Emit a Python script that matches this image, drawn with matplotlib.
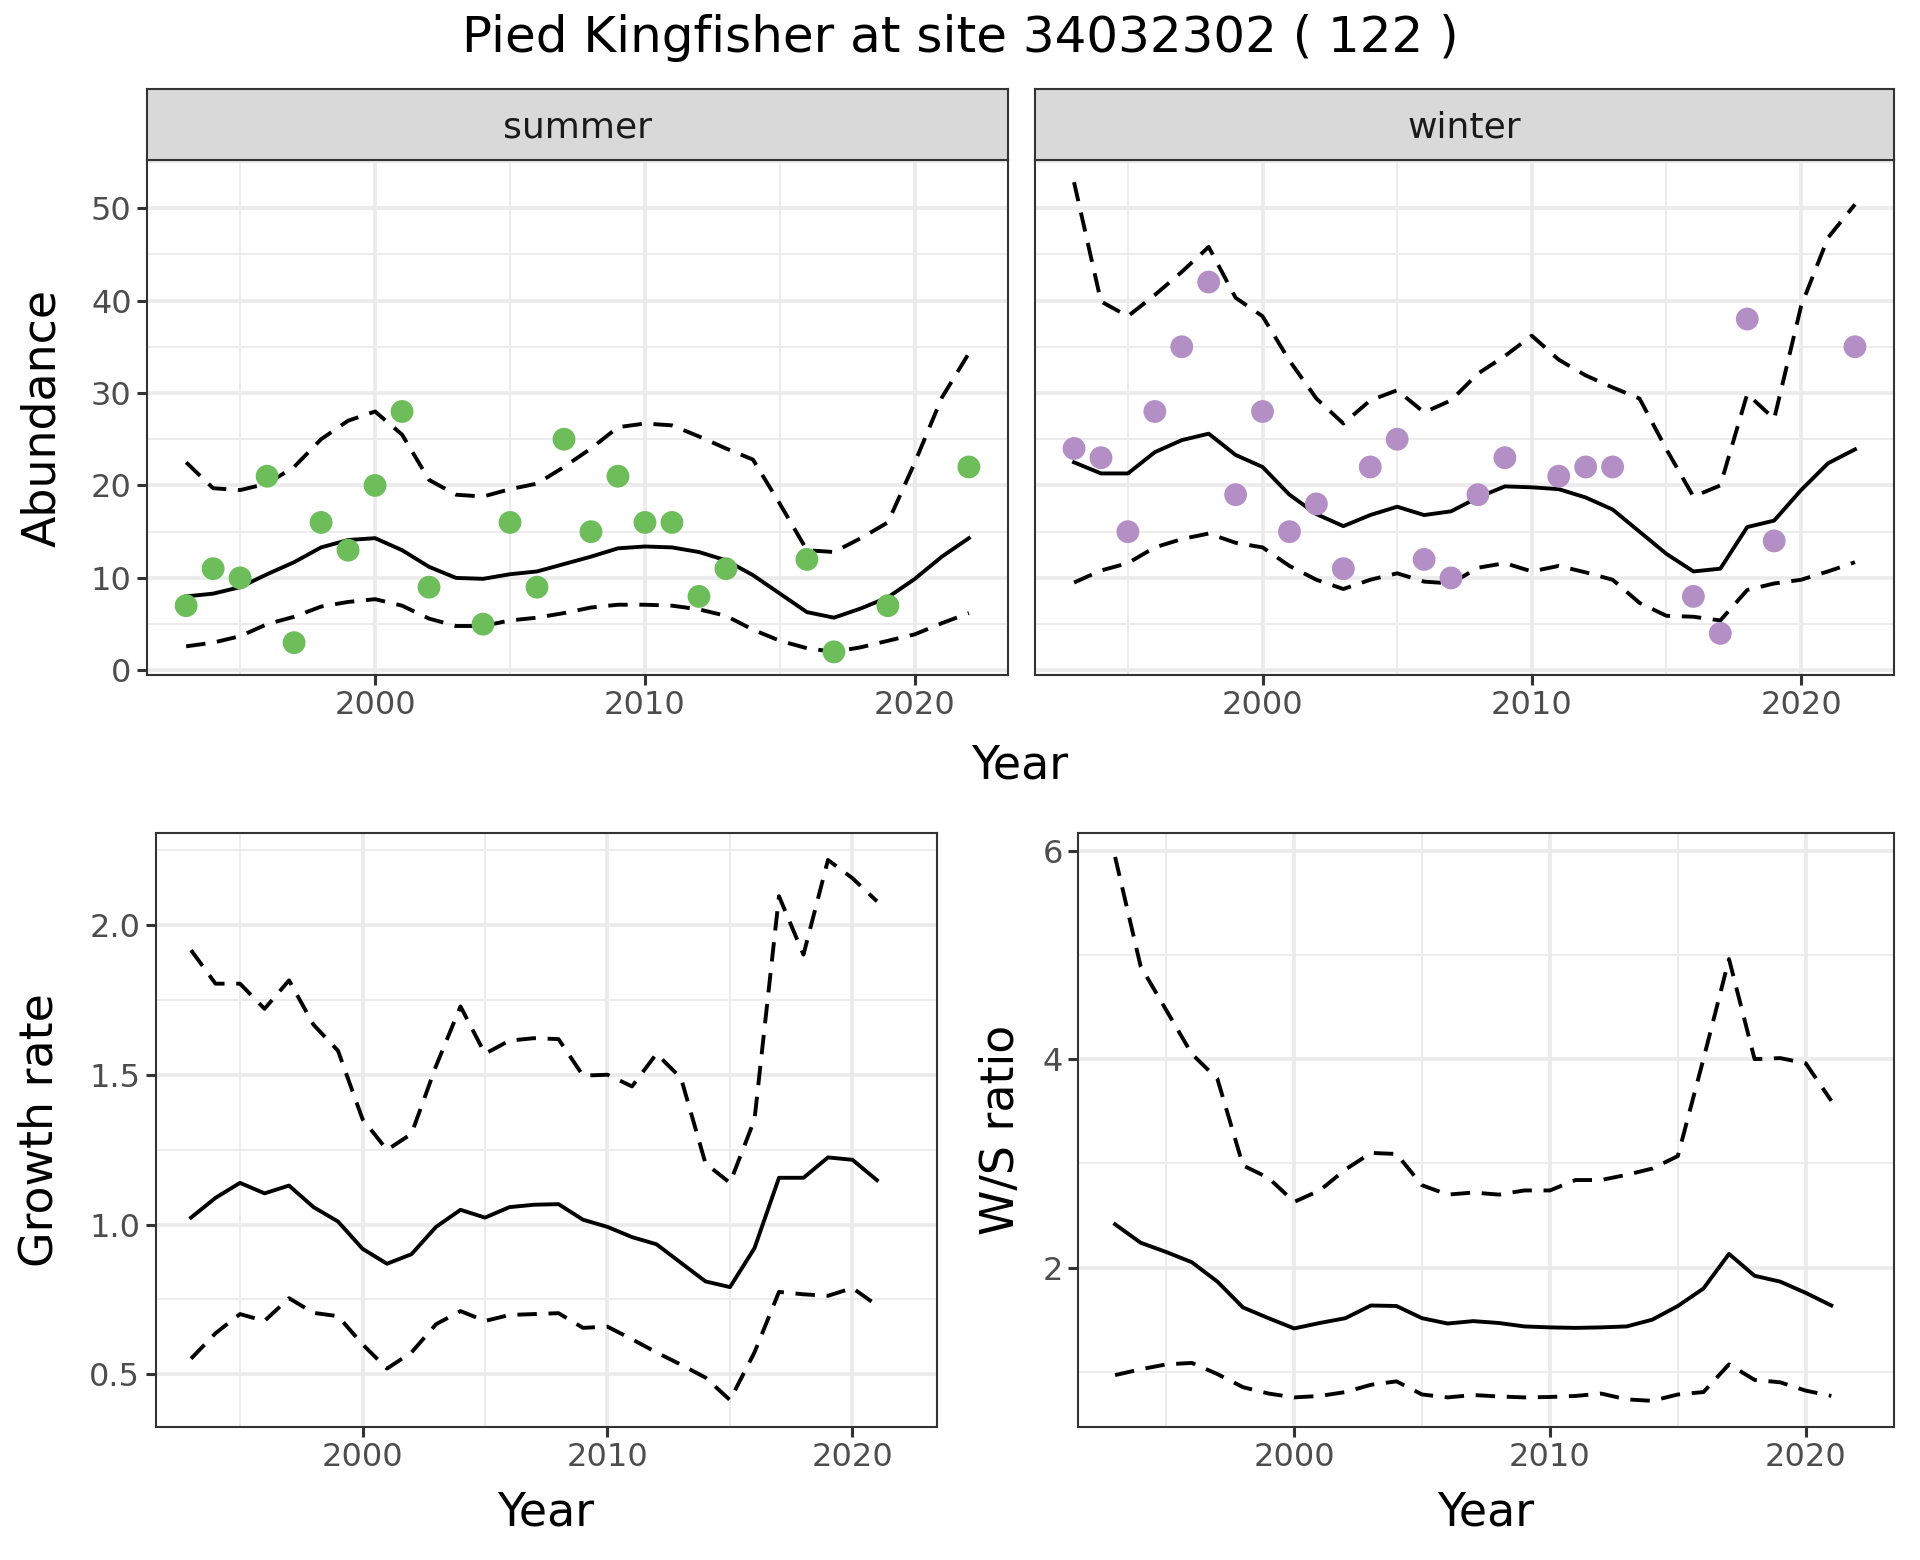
import numpy as np
import matplotlib
matplotlib.use("Agg")
import matplotlib.pyplot as plt
from matplotlib.ticker import FixedLocator, FormatStrFormatter

years = list(range(1993, 2023))
nan = np.nan

# Abundance observations
summer_obs = [7, 11, 10, 21, 3, 16, 13, 20, 28, 9, nan, 5, 16, 9, 25, 15, 21, 16, 16, 8,
              11, nan, nan, 12, 2, nan, 7, nan, nan, 22]
winter_obs = [24, 23, 15, 28, 35, 42, 19, 28, 15, 18, 11, 22, 25, 12, 10, 19, 23, nan, 21, 22,
              22, nan, nan, 8, 4, 38, 14, nan, nan, 35]

# Summer model fit
summer_mean = [8.0, 8.3, 9.0, 10.4, 11.7, 13.3, 14.1, 14.3, 13.0, 11.2, 10.0, 9.9, 10.4, 10.7, 11.5,
               12.3, 13.2, 13.4, 13.3, 12.8, 11.9, 10.3, 8.3, 6.3, 5.7, 6.7, 7.9, 9.9, 12.3, 14.3]
summer_upper = [22.5, 19.7, 19.5, 20.2, 22.0, 25.0, 27.0, 28.0, 25.5, 20.6, 19.0, 18.8, 19.6, 20.2, 22.0,
                24.0, 26.3, 26.7, 26.5, 25.3, 24.0, 22.8, 18.0, 13.0, 12.8, 14.3, 16.0, 22.5, 29.5, 34.3]
summer_lower = [2.6, 3.0, 3.7, 5.0, 5.8, 6.9, 7.4, 7.7, 7.0, 5.6, 4.8, 4.8, 5.4, 5.7, 6.2,
                6.8, 7.1, 7.1, 7.0, 6.6, 5.9, 4.4, 3.2, 2.4, 2.0, 2.5, 3.2, 3.9, 5.1, 6.2]

# Winter model fit
winter_mean = [22.5, 21.3, 21.3, 23.6, 24.9, 25.6, 23.3, 22.0, 19.0, 16.9, 15.6, 16.8, 17.7, 16.8, 17.2,
               18.7, 19.9, 19.8, 19.6, 18.7, 17.4, 15.0, 12.6, 10.7, 11.0, 15.5, 16.2, 19.5, 22.4, 23.9]
winter_upper = [52.8, 39.9, 38.3, 40.6, 43.1, 45.8, 40.3, 38.3, 33.5, 29.4, 26.7, 29.2, 30.3, 27.9, 29.2,
                32.1, 34.0, 36.2, 33.6, 31.9, 30.6, 29.4, 23.9, 18.8, 20.0, 29.9, 27.2, 39.4, 46.8, 50.4]
winter_lower = [9.5, 10.8, 11.6, 13.3, 14.2, 14.8, 13.8, 13.3, 11.3, 9.8, 8.8, 9.8, 10.5, 9.6, 9.4,
                11.1, 11.6, 10.7, 11.3, 10.6, 9.8, 7.3, 5.9, 5.8, 5.4, 8.7, 9.4, 9.8, 10.7, 11.7]

# Growth rate (1993-2021)
years2 = list(range(1993, 2022))
growth_mean = [1.023, 1.089, 1.139, 1.104, 1.130, 1.058, 1.010, 0.919, 0.869, 0.901, 0.992, 1.049, 1.023,
               1.058, 1.066, 1.068, 1.016, 0.992, 0.958, 0.934, 0.872, 0.810, 0.791, 0.921, 1.156, 1.156,
               1.224, 1.216, 1.148]
growth_upper = [1.916, 1.804, 1.804, 1.720, 1.815, 1.667, 1.580, 1.352, 1.249, 1.303, 1.529, 1.728, 1.570,
                1.614, 1.622, 1.619, 1.497, 1.500, 1.461, 1.570, 1.489, 1.204, 1.139, 1.350, 2.096, 1.901,
                2.217, 2.156, 2.079]
growth_lower = [0.552, 0.637, 0.701, 0.678, 0.754, 0.705, 0.694, 0.600, 0.519, 0.573, 0.667, 0.711, 0.678,
                0.698, 0.701, 0.704, 0.655, 0.659, 0.617, 0.573, 0.532, 0.489, 0.414, 0.573, 0.775, 0.767,
                0.762, 0.788, 0.730]

# W/S ratio (1993-2021)
ws_mean = [2.415, 2.238, 2.149, 2.051, 1.865, 1.617, 1.514, 1.416, 1.468, 1.514, 1.636, 1.631, 1.514,
           1.463, 1.486, 1.468, 1.435, 1.426, 1.421, 1.426, 1.435, 1.500, 1.631, 1.799, 2.131, 1.921,
           1.865, 1.757, 1.636]
ws_upper = [5.94, 4.89, 4.47, 4.05, 3.81, 2.98, 2.86, 2.63, 2.74, 2.94, 3.10, 3.09, 2.79, 2.70, 2.72,
            2.70, 2.74, 2.74, 2.84, 2.84, 2.89, 2.95, 3.07, 4.00, 4.96, 4.00, 4.01, 3.96, 3.60]
ws_lower = [0.968, 1.024, 1.071, 1.085, 0.978, 0.852, 0.791, 0.754, 0.768, 0.805, 0.875, 0.908, 0.782,
            0.754, 0.777, 0.763, 0.754, 0.758, 0.768, 0.791, 0.735, 0.721, 0.782, 0.805, 1.071, 0.922,
            0.899, 0.819, 0.768]

title = "Pied Kingfisher at site 34032302 ( 122 )"
panel_labels = ["summer", "winter"]

GREEN = "#6DBE5A"
PURPLE = "#B48FC6"
W, H = 1920, 1560
LW = 2.8
DASH = (5.0, 3.0)
TICK_FS = 23
TITLE_FS = 36
STRIP_FS = 26
AXT_FS = 33

fig = plt.figure(figsize=(W / 100, H / 100), dpi=100)
fig.patch.set_facecolor("white")


def rect(x0, y0, x1, y1):
    return [x0 / W, 1 - y1 / H, (x1 - x0) / W, (y1 - y0) / H]


def style(ax, xlim, ylim, ymajor, yminor, show_y=True):
    ax.set_xlim(*xlim)
    ax.set_ylim(*ylim)
    ax.xaxis.set_major_locator(FixedLocator([2000, 2010, 2020]))
    ax.xaxis.set_minor_locator(FixedLocator([1995, 2005, 2015]))
    ax.yaxis.set_major_locator(FixedLocator(ymajor))
    ax.yaxis.set_minor_locator(FixedLocator(yminor))
    ax.grid(which="major", color="#EBEBEB", linewidth=2.6)
    ax.grid(which="minor", color="#EBEBEB", linewidth=1.3)
    ax.set_axisbelow(True)
    for s in ax.spines.values():
        s.set_color("#333333")
        s.set_linewidth(1.5)
    ax.tick_params(which="major", length=7, width=2.2, color="#333333",
                   labelsize=TICK_FS, labelcolor="#4D4D4D", pad=4)
    ax.tick_params(which="minor", length=0)
    if not show_y:
        ax.tick_params(axis="y", which="both", left=False, labelleft=False)


def fit_lines(ax, x, m, lo, up):
    ax.plot(x, up, color="black", lw=LW, linestyle=(0, DASH))
    ax.plot(x, lo, color="black", lw=LW, linestyle=(0, DASH))
    ax.plot(x, m, color="black", lw=LW)


xlim = (1991.55, 2023.45)
ylim_ab = (-0.5, 55.2)

# Top panels
ax_s = fig.add_axes(rect(147, 160, 1008, 675))
ax_w = fig.add_axes(rect(1035, 160, 1894, 675))
for ax, obs, m, lo, up, col, lab, showy in [
        (ax_s, summer_obs, summer_mean, summer_lower, summer_upper, GREEN, panel_labels[0], True),
        (ax_w, winter_obs, winter_mean, winter_lower, winter_upper, PURPLE, panel_labels[1], False)]:
    style(ax, xlim, ylim_ab, [0, 10, 20, 30, 40, 50], [5, 15, 25, 35, 45, 55], show_y=showy)
    fit_lines(ax, years, m, lo, up)
    ax.scatter(years, obs, s=270, color=col, edgecolors="none", zorder=3)
    # strip
    pos = ax.get_position()
    sax = fig.add_axes([pos.x0, pos.y1, pos.width, 71 / H])
    sax.set_facecolor("#D9D9D9")
    sax.set_xticks([])
    sax.set_yticks([])
    for s in sax.spines.values():
        s.set_color("#333333")
        s.set_linewidth(1.5)
    sax.text(0.5, 0.46, lab, ha="center", va="center", fontsize=STRIP_FS, color="#1A1A1A",
             transform=sax.transAxes)

fig.text(43 / W, 1 - 418 / H, "Abundance", rotation=90, ha="center", va="center",
         fontsize=AXT_FS, color="black")
fig.text(1020 / W, 1 - 766 / H, "Year", ha="center", va="center", fontsize=AXT_FS, color="black")
fig.text(960 / W, 1 - 38 / H, title, ha="center", va="center", fontsize=TITLE_FS, color="black")

# Bottom-left: growth rate
ax_g = fig.add_axes(rect(155.5, 833, 937, 1427))
style(ax_g, xlim, (0.324, 2.307), [0.5, 1.0, 1.5, 2.0], [0.75, 1.25, 1.75, 2.25])
ax_g.yaxis.set_major_formatter(FormatStrFormatter("%.1f"))
fit_lines(ax_g, years2, growth_mean, growth_lower, growth_upper)
fig.text(546 / W, 1 - 1513 / H, "Year", ha="center", va="center", fontsize=AXT_FS)
fig.text(40 / W, 1 - 1130 / H, "Growth rate", rotation=90, ha="center", va="center",
         fontsize=AXT_FS)

# Bottom-right: W/S ratio
ax_r = fig.add_axes(rect(1078, 833, 1894, 1427))
style(ax_r, xlim, (0.47, 6.17), [2, 4, 6], [1, 3, 5])
fit_lines(ax_r, years2, ws_mean, ws_lower, ws_upper)
fig.text(1486 / W, 1 - 1513 / H, "Year", ha="center", va="center", fontsize=AXT_FS)
fig.text(1002 / W, 1 - 1130 / H, "W/S ratio", rotation=90, ha="center", va="center",
         fontsize=AXT_FS)

fig.savefig("out.png", dpi=100, facecolor="white")
